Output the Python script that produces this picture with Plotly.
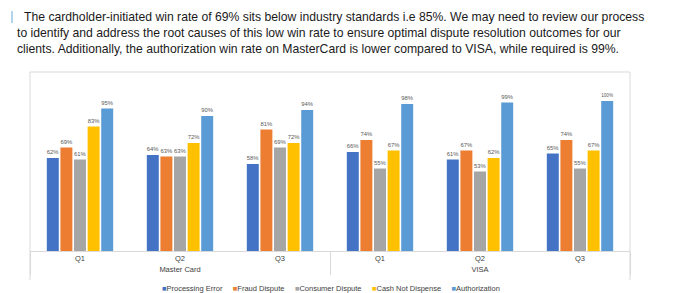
import plotly.graph_objects as go

networks = ["Master Card", "Master Card", "Master Card", "VISA", "VISA", "VISA"]
quarters = ["Q1", "Q2", "Q3", "Q1", "Q2", "Q3"]

series_names = ["Processing Error", "Fraud Dispute", "Consumer Dispute", "Cash Not Dispense", "Authorization"]
series_colors = ["#4472C4", "#ED7D31", "#A5A5A5", "#FFC000", "#5B9BD5"]

processing_error = [62, 64, 58, 66, 61, 65]
fraud_dispute = [69, 63, 81, 74, 67, 74]
consumer_dispute = [61, 63, 69, 55, 53, 55]
cash_not_dispense = [83, 72, 72, 67, 62, 67]
authorization = [95, 90, 94, 98, 99, 100]

series_values = [processing_error, fraud_dispute, consumer_dispute, cash_not_dispense, authorization]

title_lines = [
    "The cardholder-initiated win rate of 69% sits below industry standards i.e 85%. We may need to review our process",
    "to identify and address the root causes of this low win rate to ensure optimal dispute resolution outcomes for our",
    "clients. Additionally, the authorization win rate on MasterCard is lower compared to VISA, while required is 99%.",
]

W, H = 680, 293
L, R, T, B = 30, 50, 86, 42
pw, ph = W - L - R, H - T - B

def px_x(x):
    return (x - L) / pw

def px_y(y):
    return (H - B - y) / ph

fig = go.Figure()
for name, color, vals in zip(series_names, series_colors, series_values):
    fig.add_trace(go.Bar(
        x=[networks, quarters], y=vals, name=name,
        marker=dict(color=color, line=dict(width=0)),
        text=[f"{v}%" for v in vals], textposition="outside",
        textfont=dict(size=6.5, color="#595959", family="Liberation Sans"),
        cliponaxis=False, showlegend=False,
    ))

# title text
font_title = dict(family="Liberation Sans", size=12.2, color="#1a1a1a")
line_x = [22, 15, 15]
line_y = [17, 33, 49]
for txt, lx, ly in zip(title_lines, line_x, line_y):
    fig.add_annotation(text=txt, xref="paper", yref="paper", x=px_x(lx), y=px_y(ly),
                       xanchor="left", yanchor="middle", showarrow=False, font=font_title)

# legend built from series names/colors
gap = "\u00a0" * 5
legend_html = gap.join(
    f"<span style='color:{c}'>■</span><span style='color:#404040'>{n}</span>"
    for n, c in zip(series_names, series_colors)
)
fig.add_annotation(text=legend_html, xref="paper", yref="paper", x=px_x(160), y=px_y(288),
                   xanchor="left", yanchor="middle", showarrow=False,
                   font=dict(family="Liberation Sans", size=7.5, color="#404040"))

shapes = [
    dict(type="line", xref="paper", yref="paper", x0=px_x(12), x1=px_x(12), y0=px_y(11), y1=px_y(23),
         line=dict(color="#7FB8E0", width=1.2)),
    dict(type="line", xref="paper", yref="paper", x0=0, x1=0, y0=px_y(280), y1=px_y(72),
         line=dict(color="#D9D9D9", width=1)),
    dict(type="line", xref="paper", yref="paper", x0=0, x1=1, y0=px_y(72), y1=px_y(72),
         line=dict(color="#D9D9D9", width=1)),
    dict(type="line", xref="paper", yref="paper", x0=1, x1=1, y0=px_y(280), y1=px_y(72),
         line=dict(color="#D9D9D9", width=1)),
]

fig.update_layout(
    width=W, height=H, margin=dict(l=L, r=R, t=T, b=B),
    paper_bgcolor="white", plot_bgcolor="white",
    barmode="group", bargap=0.32, bargroupgap=0.12,
    showlegend=False, shapes=shapes,
    font=dict(family="Liberation Sans", color="#404040"),
    xaxis=dict(type="multicategory", showline=True, linecolor="#D9D9D9", linewidth=1,
               showdividers=True, dividercolor="#D9D9D9", dividerwidth=1,
               tickfont=dict(size=7.5, color="#404040"), ticks="", showgrid=False),
    yaxis=dict(range=[0, 110], visible=False, showgrid=False, zeroline=False),
)

fig.write_html("out.html")
